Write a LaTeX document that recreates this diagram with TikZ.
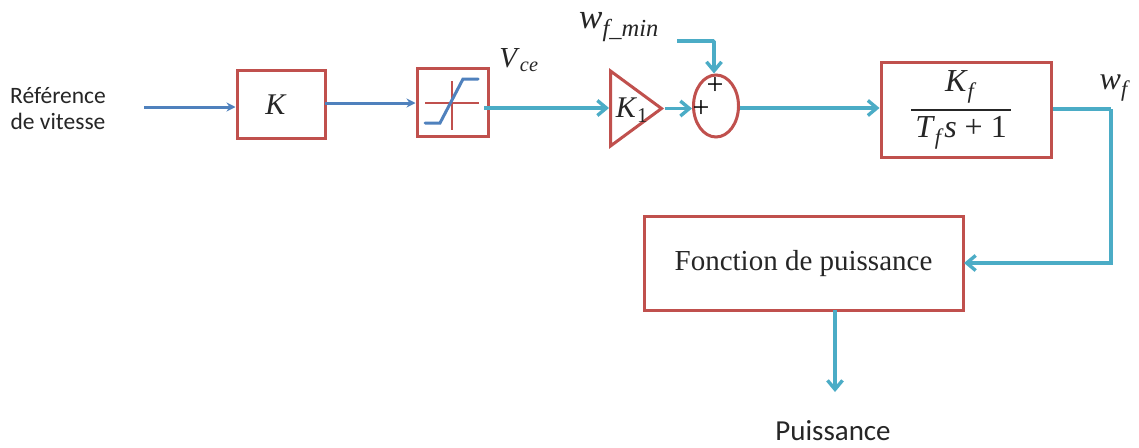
\documentclass[tikz,border=0pt]{standalone}
\usepackage{amsmath}
\usepackage{fontspec}
\setmainfont{Liberation Serif}
\newfontfamily\labfont{Carlito}
\usetikzlibrary{arrows.meta,shapes.geometric}
\definecolor{rd}{HTML}{C0504D}
\definecolor{tl}{HTML}{4BACC6}
\definecolor{bl}{HTML}{4F81BD}
\newcommand{\vi}[1]{\textit{#1}}
\tikzset{
  x=1pt,y=-1pt,
  redbox/.style={draw=rd,line width=3pt,fill=white,inner sep=0pt,rectangle},
  tealline/.style={draw=tl,line width=3.6pt,-{Straight Barb[length=9pt,width=15pt,line width=3.4pt]}},
  tealplain/.style={draw=tl,line width=3.6pt},
  blueline/.style={draw=bl,line width=3pt,-{Stealth[length=9pt,width=9pt]}},
  lab/.style={inner sep=0pt,font=\labfont\fontsize{23.5}{26}\selectfont,align=center,text=black!85},
  mathlab/.style={inner sep=0pt,font=\fontsize{32}{36}\selectfont,text=black!85},
  plusmark/.style={inner sep=0pt,font=\fontsize{30}{30}\selectfont,text=black}
}
\begin{document}
\begin{tikzpicture}
\path[use as bounding box,fill=white] (0,0) rectangle (1139,447);
% blocks
\node[redbox,minimum width=88pt,minimum height=68pt] (k) at (281,104) {};
\node[mathlab,font=\fontsize{30}{34}\selectfont] (ktext) at (276,105) {\vi{K}};
\node[redbox,minimum width=71pt,minimum height=68pt] (sat) at (452.5,102) {};
\node[draw=rd,line width=3pt,fill=white,isosceles triangle,isosceles triangle stretches,shape border rotate=0,minimum width=75pt,minimum height=51pt,inner sep=0pt,anchor=lower side] (tri) at (609,108.5) {};
\node[mathlab,font=\fontsize{30}{34}\selectfont] (k1text) at (632,110) {\vi{K}$_{\text{1}}$};
\node[draw=rd,line width=3pt,fill=white,ellipse,minimum width=45pt,minimum height=62pt,inner sep=0pt] (sum) at (716,106) {};
\node[redbox,minimum width=170pt,minimum height=95pt] (tf) at (966,109.5) {};
\node[mathlab] (tftext) at (961,110) {$\genfrac{}{}{1.8pt}{0}{\text{\vi{K}}_{\text{\vi{f}}}}{\,\text{\vi{T}}_{\text{\vi{f}}}\text{\vi{s} + 1}\,}$};
\node[redbox,minimum width=319pt,minimum height=94pt] (fp) at (803.5,263) {};
\node[inner sep=0pt,font=\fontsize{29}{32}\selectfont,text=black!85] (fptext) at (803.5,264) {Fonction de puissance};
% saturation glyph
\coordinate (hl) at (425,103); \coordinate (hr) at (479,103);
\coordinate (vt) at (452,81); \coordinate (vb) at (452,130);
\draw[rd,line width=1.2pt] (hl) -- (hr) (vt) -- (vb);
\coordinate (s1) at (425,123); \coordinate (s2) at (440,123);
\coordinate (s3) at (463,79); \coordinate (s4) at (478,79);
\draw[bl,line width=3pt,line cap=round] (s1) -- (s2) -- (s3) -- (s4);
% labels
\node[lab] (ref) at (58,109) {Référence\\de vitesse};
\node[mathlab,font=\fontsize{29}{34}\selectfont] (vce) at (519,60) {\vi{V}$_{\text{\vi{ce}}}$};
\node[mathlab,font=\fontsize{35}{40}\selectfont] (wmin) at (619,27) {\vi{w}$_{\text{\vi{f\_min}}}$};
\node[mathlab] (wf) at (1115,88) {\vi{w}$_{\text{\vi{f}}}$};
\node[lab,font=\labfont\fontsize{29}{32}\selectfont] (pu) at (833,431) {Puissance};
\node[plusmark] (p1) at (715,86) {+};
\node[plusmark] (p2) at (701,109) {+};
% connectors
\coordinate (in) at (144,107);
\coordinate (kout) at (325,103);
\coordinate (satout) at (484,108);
\coordinate (wstart) at (677,41);
\coordinate (wcorner) at (714,41);
\coordinate (fork) at (1111,109);
\coordinate (fpin) at (964,263);
\coordinate (fpout) at (835,310);
\coordinate (puend) at (835,392);
\draw[blueline] (in) -- (in -| k.west);
\draw[blueline] (kout) -- (kout -| sat.west);
\draw[tealline] (satout) -- (satout -| tri.lower side);
\draw[tealline] (tri.apex) -- (tri.apex -| sum.west);
\draw[tealline,rounded corners=1pt] (wstart) -- (wcorner) -- (wcorner |- sum.north);
\draw[tealline] (satout -| sum.east) -- (satout -| tf.west);
\draw[tealplain] (fork -| tf.east) -- (fork);
\draw[tealline] (fork) -- (fork |- fpin) -- (fpin);
\draw[tealline] (fpout) -- (puend);
\end{tikzpicture}
\end{document}
